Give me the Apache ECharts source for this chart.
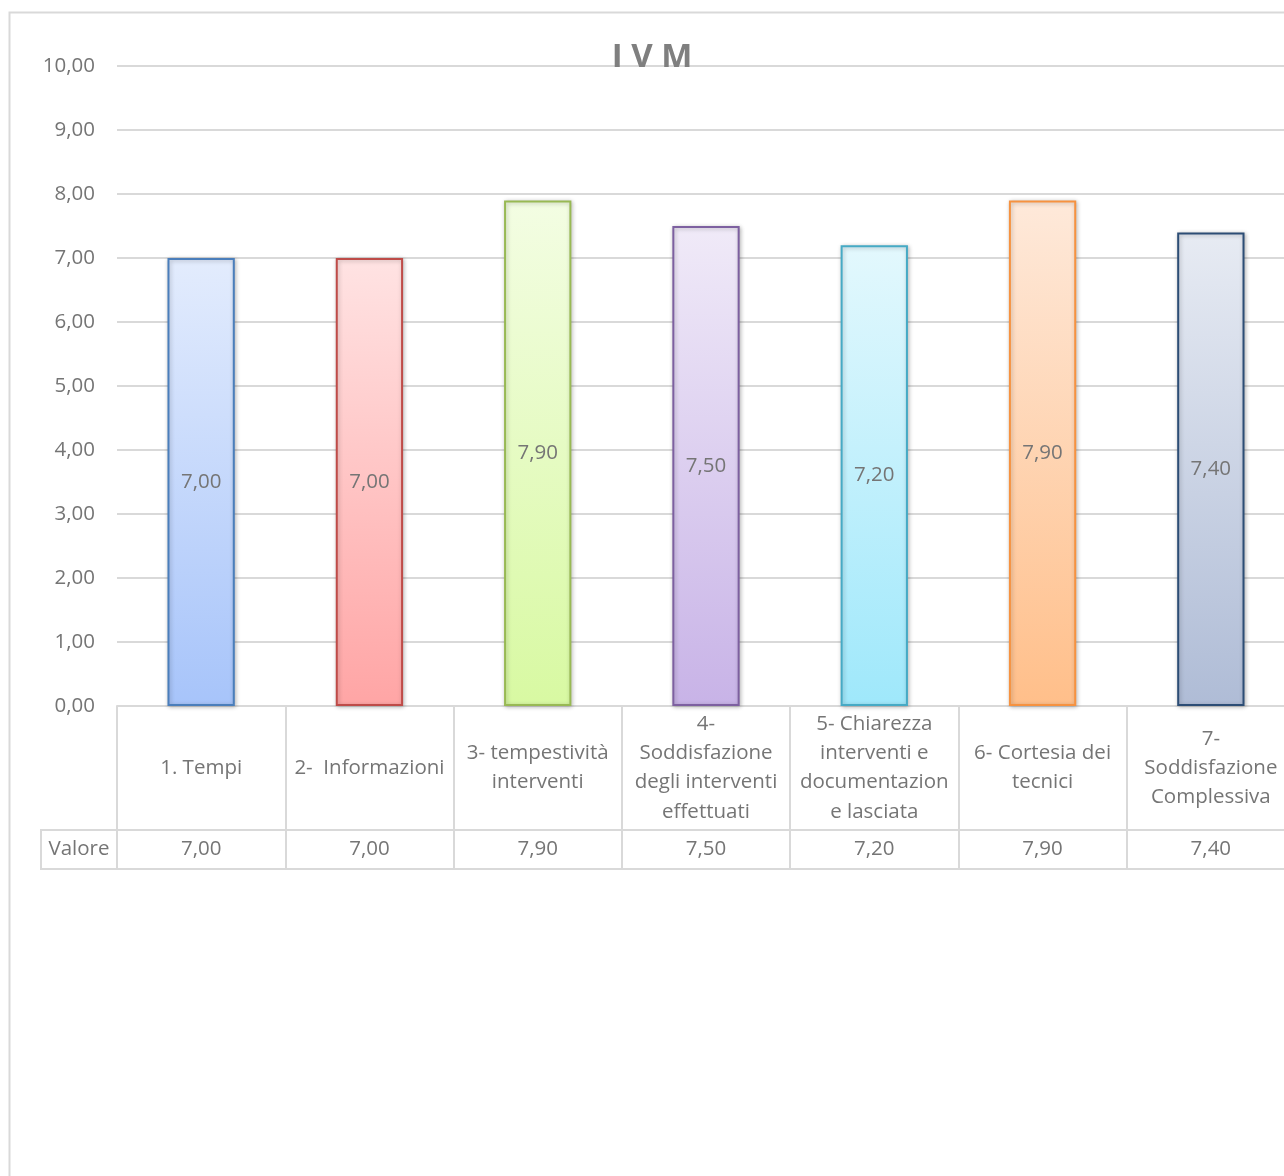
<!DOCTYPE html>
<html>
<head>
<meta charset="utf-8">
<script src="https://cdn.jsdelivr.net/npm/echarts@6/dist/echarts.min.js"></script>
<style>
  html, body { margin: 0; padding: 0; background: #fff; overflow: hidden; }
  /* the chart area is a bit wider than the window; the right edge is cut off */
  #chart { width: 1310px; height: 1176px; }
</style>
</head>
<body>
<div id="chart"></div>
<script>
// Survey categories (line breaks follow the table cell wrapping)
const categories = [
  '1. Tempi',
  '2-  Informazioni',
  '3- tempestività\ninterventi',
  '4-\nSoddisfazione\ndegli interventi\neffettuati',
  '5- Chiarezza\ninterventi e\ndocumentazion\ne lasciata',
  '6- Cortesia dei\ntecnici',
  '7-\nSoddisfazione\nComplessiva'
];
// Average score per category
const values = [7.00, 7.00, 7.90, 7.50, 7.20, 7.90, 7.40];
// Value axis range and step
const yMin = 0;
const yMax = 10;
const yStep = 1;
const rowHeader = 'Valore';
const chartTitle = 'I V M';

// Per-bar gradient colours (top, bottom) and outline
const topColors = ['#e3ecfd', '#ffe3e3', '#f3fde3', '#f0eaf8', '#e3f8fd', '#fee9da', '#e7ebf3'];
const bottomColors = ['#a7c4fa', '#ffa5a5', '#d8f9a2', '#c8b3e7', '#9fe8fb', '#ffbf8a', '#afbcd6'];
const borderColors = ['#4a7ebb', '#be4b48', '#98b954', '#7d60a0', '#46aac5', '#f69240', '#2c4d75'];

// Layout
const FONT = '"Open Sans", "Noto Sans", sans-serif';
const FS = 20.5;
const TEXT = '#757575';
const LINE = '#d9d9d9';
const GRID_LEFT = 117;
const GRID_TOP = 66;
const PLOT_H = 640;
const PLOT_W = 1178;
const ROW1 = 124;   // category-name row height
const ROW2 = 39;    // value row height

const fmt = v => v.toFixed(2).replace('.', ',');

const chart = echarts.init(document.getElementById('chart'), null, { renderer: 'canvas' });

const option = {
  animation: false,
  backgroundColor: '#ffffff',
  textStyle: { fontFamily: FONT },
  grid: { left: GRID_LEFT, top: GRID_TOP, width: PLOT_W, height: PLOT_H, containLabel: false },
  xAxis: [
    {
      type: 'category',
      data: categories,
      position: 'bottom',
      boundaryGap: true,
      axisLine: { show: true, lineStyle: { color: LINE, width: 2 } },
      axisTick: { show: true, interval: 0, length: ROW1 + ROW2, alignWithLabel: false, lineStyle: { color: LINE, width: 2 } },
      axisLabel: {
        interval: 0, hideOverlap: false,
        margin: ROW1 / 2, verticalAlign: 'middle',
        color: TEXT, fontSize: FS, lineHeight: 29.3, fontFamily: FONT, align: 'center'
      },
      splitLine: { show: false }
    },
    {
      type: 'category',
      data: categories,
      position: 'bottom',
      offset: ROW1,
      axisLine: { show: true, lineStyle: { color: LINE, width: 2 } },
      axisTick: { show: false },
      axisLabel: {
        interval: 0, hideOverlap: false,
        margin: ROW2 / 2, verticalAlign: 'middle',
        color: TEXT, fontSize: FS, fontFamily: FONT,
        formatter: (v, i) => fmt(values[i])
      }
    },
    {
      type: 'category',
      data: categories,
      position: 'bottom',
      offset: ROW1 + ROW2,
      axisLine: { show: true, lineStyle: { color: LINE, width: 2 } },
      axisTick: { show: false },
      axisLabel: { show: false }
    }
  ],
  yAxis: {
    type: 'value',
    min: yMin, max: yMax, interval: yStep,
    axisLine: { show: false },
    axisTick: { show: false },
    axisLabel: { margin: 22, color: TEXT, fontSize: FS, fontFamily: FONT, formatter: v => fmt(v) },
    splitLine: { lineStyle: { color: LINE, width: 2 } }
  },
  series: [{
    type: 'bar',
    xAxisIndex: 0,
    barWidth: '40%',
    data: values.map((v, i) => ({
      value: v,
      itemStyle: {
        color: new echarts.graphic.LinearGradient(0, 0, 0, 1, [
          { offset: 0, color: topColors[i] },
          { offset: 1, color: bottomColors[i] }
        ]),
        borderColor: borderColors[i],
        borderWidth: 2,
        shadowBlur: 4,
        shadowColor: 'rgba(0,0,0,0.25)',
        shadowOffsetX: 1,
        shadowOffsetY: 1
      }
    })),
    label: {
      show: true, position: 'inside',
      color: TEXT, fontSize: FS, fontFamily: FONT,
      formatter: p => fmt(p.value)
    }
  }],
  graphic: [
    // chart frame
    {
      type: 'rect', silent: true, z: 100,
      shape: { x: 9.5, y: 12.5, width: 1400, height: 1300 },
      style: { fill: 'none', stroke: LINE, lineWidth: 2 }
    },
    // title
    {
      type: 'text', silent: true, z: 100,
      x: 652, y: 58,
      style: {
        text: chartTitle, fill: '#7f7f7f',
        font: 'bold 33px ' + FONT,
        textAlign: 'center', textVerticalAlign: 'middle'
      }
    },
    // row header cell of the value row
    {
      type: 'polyline', silent: true, z: 100,
      shape: { points: [
        [GRID_LEFT, GRID_TOP + PLOT_H + ROW1],
        [41, GRID_TOP + PLOT_H + ROW1],
        [41, GRID_TOP + PLOT_H + ROW1 + ROW2],
        [GRID_LEFT, GRID_TOP + PLOT_H + ROW1 + ROW2]
      ] },
      style: { stroke: LINE, lineWidth: 2, fill: 'none' }
    },
    {
      type: 'text', silent: true, z: 100,
      x: (41 + GRID_LEFT) / 2, y: GRID_TOP + PLOT_H + ROW1 + ROW2 / 2,
      style: {
        text: rowHeader, fill: TEXT, font: FS + 'px ' + FONT,
        textAlign: 'center', textVerticalAlign: 'middle'
      }
    }
  ]
};

chart.setOption(option);
</script>
</body>
</html>
